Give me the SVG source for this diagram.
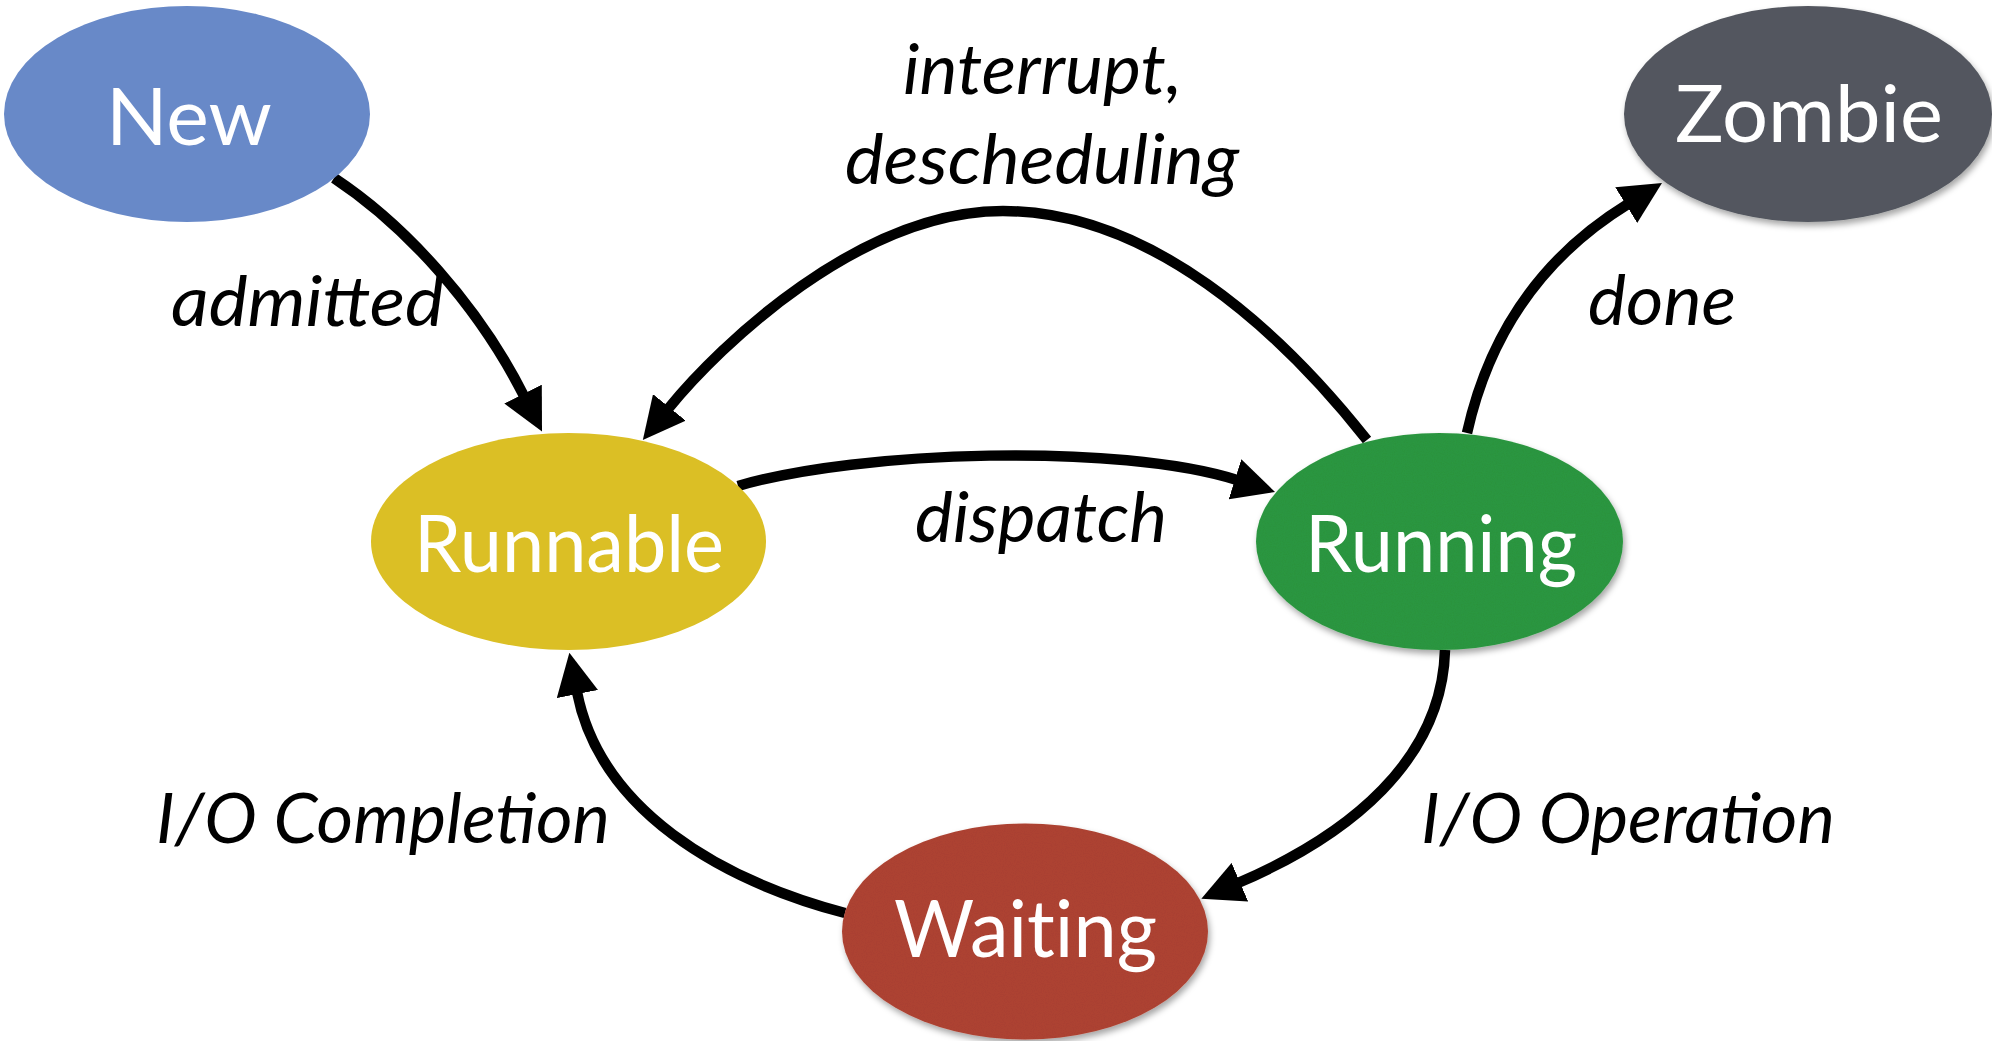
<svg xmlns="http://www.w3.org/2000/svg" width="1992" height="1041" viewBox="0 0 1992 1041">
  <defs>
    <style>
      .node-label { font-family: Lato, "Open Sans", "Liberation Sans", sans-serif; font-size: 80px; fill: #ffffff; font-variant-ligatures: none; font-feature-settings: "liga" 0; }
      .edge { fill: none; stroke: #000000; stroke-width: 10.5; marker-end: url(#arrow); }
      .edge-label { font-family: Lato, "Open Sans", "Liberation Sans", sans-serif; font-style: italic; font-size: 70px; fill: #000000; }
    </style>
    <marker id="arrow" markerUnits="userSpaceOnUse" markerWidth="42" markerHeight="42" viewBox="0 0 40 40" refX="2" refY="20" orient="auto">
      <path d="M0,0 L40,20 L0,40 Z" fill="#000000"/>
    </marker>
    <filter id="shadow" x="-10%" y="-10%" width="125%" height="130%">
      <feDropShadow dx="2" dy="4" stdDeviation="3" flood-color="#000000" flood-opacity="0.35"/>
    </filter>
    <filter id="paper" x="-10%" y="-10%" width="125%" height="130%">
      <feTurbulence type="fractalNoise" baseFrequency="0.9" numOctaves="2" seed="4" result="noise"/>
      <feColorMatrix in="noise" type="matrix" values="0 0 0 0 0  0 0 0 0 0  0 0 0 0 0  0 0 0 0.12 0" result="grain"/>
      <feComposite in="grain" in2="SourceGraphic" operator="in" result="grainIn"/>
      <feMerge result="textured">
        <feMergeNode in="SourceGraphic"/>
        <feMergeNode in="grainIn"/>
      </feMerge>
      <feDropShadow in="textured" dx="2" dy="4" stdDeviation="3" flood-color="#000000" flood-opacity="0.35"/>
    </filter>
  </defs>

  <rect width="1992" height="1041" fill="#ffffff"/>

  <!-- transitions -->
  <g id="connectors">
    <g id="edge-admitted">
      <path class="edge" d="M334,178 C405,225 478,305 524,396"/>
      <text class="edge-label" x="171" y="326" textLength="273" lengthAdjust="spacingAndGlyphs">admitted</text>
    </g>
    <g id="edge-interrupt">
      <path class="edge" d="M1367,440 C1280,330 1150,211 1003,211 C860,211 720,345 668,409"/>
      <text class="edge-label" x="903" y="94" textLength="279" lengthAdjust="spacingAndGlyphs">interrupt,</text>
      <text class="edge-label" x="845" y="184" textLength="394" lengthAdjust="spacingAndGlyphs">descheduling</text>
    </g>
    <g id="edge-dispatch">
      <path class="edge" d="M738,486 C860,450 1120,443 1237,480"/>
      <text class="edge-label" x="915" y="542" textLength="252" lengthAdjust="spacingAndGlyphs">dispatch</text>
    </g>
    <g id="edge-done">
      <path class="edge" d="M1467,433 C1490,330 1545,255 1628,204"/>
      <text class="edge-label" x="1588" y="325" textLength="148" lengthAdjust="spacingAndGlyphs">done</text>
    </g>
    <g id="edge-io-operation">
      <path class="edge" d="M1445,650 C1442,760 1350,835 1238,883"/>
      <text class="edge-label" x="1421" y="843" textLength="414" lengthAdjust="spacingAndGlyphs">I/O Operation</text>
    </g>
    <g id="edge-io-completion">
      <path class="edge" d="M845,913 C720,880 600,810 577,692"/>
      <text class="edge-label" x="156" y="843" textLength="454" lengthAdjust="spacingAndGlyphs">I/O Completion</text>
    </g>
  </g>

  <!-- states -->
  <g id="node-new">
    <ellipse cx="187" cy="114" rx="183" ry="108" fill="#6889c8"/>
    <text class="node-label" x="106" y="145" textLength="166" lengthAdjust="spacingAndGlyphs">New</text>
  </g>
  <g id="node-runnable">
    <ellipse cx="568.5" cy="541.5" rx="197.5" ry="108.5" fill="#dbbf25"/>
    <text class="node-label" x="414" y="572" textLength="310" lengthAdjust="spacingAndGlyphs">Runnable</text>
  </g>
  <g id="node-running">
    <ellipse cx="1439.5" cy="541.5" rx="183.5" ry="108.5" fill="#2f9a42" filter="url(#paper)"/>
    <text class="node-label" x="1305" y="572" textLength="272" lengthAdjust="spacingAndGlyphs">Running</text>
  </g>
  <g id="node-waiting">
    <ellipse cx="1025" cy="931.5" rx="183" ry="108" fill="#b14535" filter="url(#paper)"/>
    <text class="node-label" x="894" y="957" textLength="263" lengthAdjust="spacingAndGlyphs">Waiting</text>
  </g>
  <g id="node-zombie">
    <ellipse cx="1808" cy="114" rx="184" ry="108" fill="#53575f" filter="url(#shadow)"/>
    <text class="node-label" x="1675" y="142" textLength="268" lengthAdjust="spacingAndGlyphs">Zombie</text>
  </g>
</svg>
